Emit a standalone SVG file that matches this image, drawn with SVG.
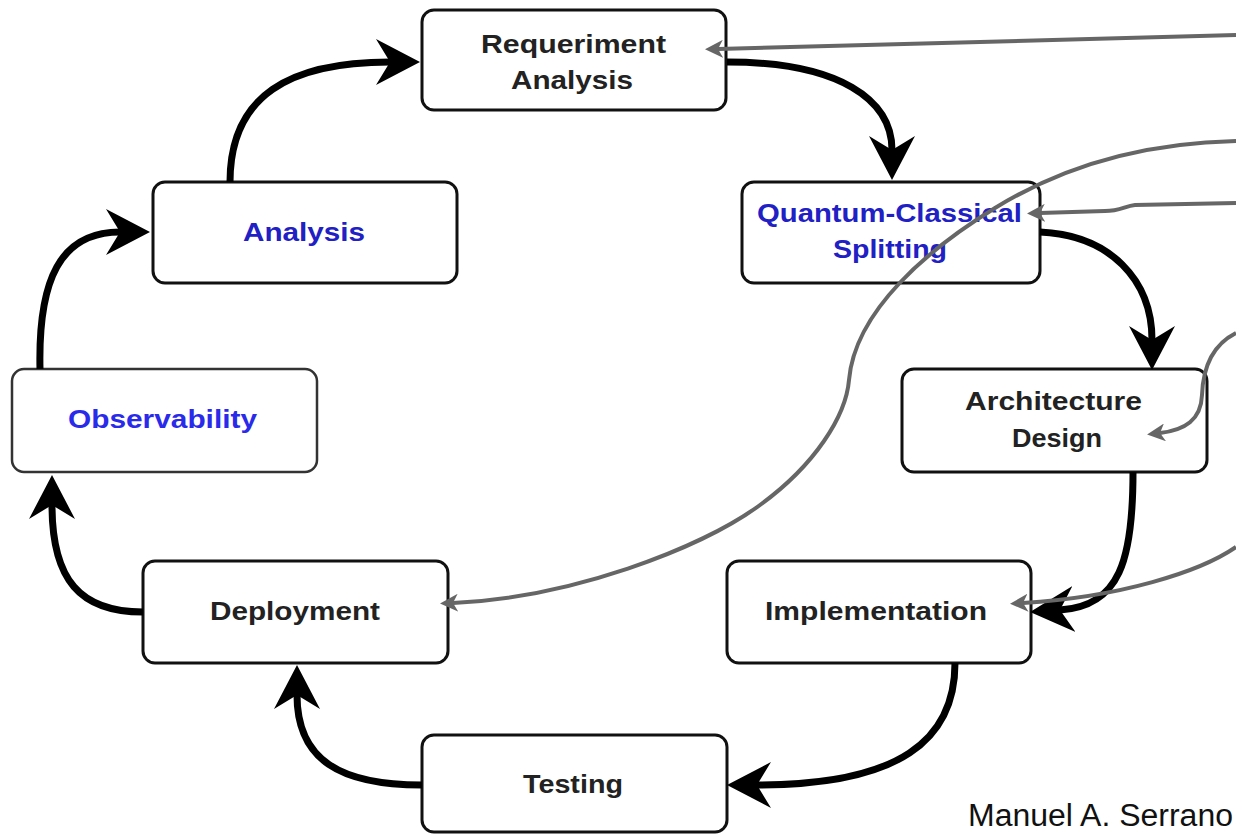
<svg xmlns="http://www.w3.org/2000/svg" width="1236" height="835" viewBox="0 0 1236 835">
<style>
.box{fill:#fff;stroke:#111;stroke-width:3}
.t{font-family:"Liberation Sans",Arial,sans-serif;font-weight:bold;font-size:25px;fill:#222}
.b{fill:#2020c4}
.flow{fill:none;stroke:#000;stroke-width:7}
.ref{fill:none;stroke:#666;stroke-width:4}
.sig{font-family:"Liberation Sans",Arial,sans-serif;font-size:31px;fill:#111}
</style>
<defs>
<marker id="big" markerUnits="userSpaceOnUse" viewBox="0 0 44 46" markerWidth="44" markerHeight="46" refX="14" refY="23" orient="auto">
<path d="M0,0 L44,23 L0,46 L14,23 Z" fill="#000"/>
</marker>
<marker id="small" markerUnits="userSpaceOnUse" viewBox="0 0 18 18" markerWidth="18" markerHeight="18" refX="5" refY="9" orient="auto">
<path d="M0,0 L18,9 L0,18 L5,9 Z" fill="#666"/>
</marker>
</defs>
<g id="req">
<rect class="box" x="422" y="10" width="304" height="100" rx="12"/>
<text class="t" x="481" y="53" textLength="185" lengthAdjust="spacingAndGlyphs">Requeriment</text>
<text class="t" x="511" y="89" textLength="122" lengthAdjust="spacingAndGlyphs">Analysis</text>
</g>
<g id="analysis">
<rect class="box" x="153" y="182" width="304" height="101" rx="12"/>
<text class="t b" x="243" y="241" textLength="122" lengthAdjust="spacingAndGlyphs">Analysis</text>
</g>
<g id="qcs">
<rect class="box" x="742" y="182" width="298" height="101" rx="12"/>
<text class="t b" x="757" y="222" textLength="265" lengthAdjust="spacingAndGlyphs">Quantum-Classical</text>
<text class="t b" x="833" y="258" textLength="114" lengthAdjust="spacingAndGlyphs">Splitting</text>
</g>
<g id="observability">
<rect class="box" x="12" y="369" width="305" height="103" rx="12" style="stroke:#333;stroke-width:2.5"/>
<text class="t" x="68" y="428" textLength="189" lengthAdjust="spacingAndGlyphs" style="fill:#2a2aea">Observability</text>
</g>
<g id="architecture">
<rect class="box" x="902" y="369" width="305" height="103" rx="12"/>
<text class="t" x="965" y="410" textLength="177" lengthAdjust="spacingAndGlyphs">Architecture</text>
<text class="t" x="1012" y="447" textLength="90" lengthAdjust="spacingAndGlyphs">Design</text>
</g>
<g id="deployment">
<rect class="box" x="143" y="561" width="305" height="102" rx="12"/>
<text class="t" x="210" y="620" textLength="170" lengthAdjust="spacingAndGlyphs">Deployment</text>
</g>
<g id="implementation">
<rect class="box" x="727" y="561" width="304" height="102" rx="12"/>
<text class="t" x="765" y="620" textLength="222" lengthAdjust="spacingAndGlyphs">Implementation</text>
</g>
<g id="testing">
<rect class="box" x="422" y="735" width="305" height="97" rx="12"/>
<text class="t" x="523" y="793" textLength="100" lengthAdjust="spacingAndGlyphs">Testing</text>
</g>
<g id="connectors">
<path class="flow" marker-end="url(#big)" d="M230,182 C230,95 290,62 390,62"/>
<path class="flow" marker-end="url(#big)" d="M727,62 C840,62 892,100 892,150"/>
<path class="flow" marker-end="url(#big)" d="M1040,232 C1110,235 1152,280 1152,340"/>
<path class="flow" marker-end="url(#big)" d="M1133,472 C1133,560 1120,606 1060,610"/>
<path class="flow" marker-end="url(#big)" d="M955,663 C955,740 900,785 757,785"/>
<path class="flow" marker-end="url(#big)" d="M422,785 C340,785 297,760 297,695"/>
<path class="flow" marker-end="url(#big)" d="M143,612 C80,612 52,580 52,505"/>
<path class="flow" marker-end="url(#big)" d="M40,369 C38,280 60,232 120,232"/>
<path class="ref" marker-end="url(#small)" d="M1236,35 L718,49"/>
<path class="ref" marker-end="url(#small)" d="M1236,141 C1140,143 1060,168 995,208 C930,248 855,310 849,380 C846,416 815,465 760,505 C700,549 570,598 453,603"/>
<path class="ref" marker-end="url(#small)" d="M1236,203 L1135,205 C1125,206 1120,211 1105,211 L1040,213"/>
<path class="ref" marker-end="url(#small)" d="M1236,333 C1212,345 1203,368 1202,395 C1201,420 1185,430 1160,433"/>
<path class="ref" marker-end="url(#small)" d="M1236,547 C1200,572 1120,597 1023,603"/>
</g>
<text class="sig" x="968" y="826" textLength="265" lengthAdjust="spacingAndGlyphs">Manuel A. Serrano</text>
</svg>
